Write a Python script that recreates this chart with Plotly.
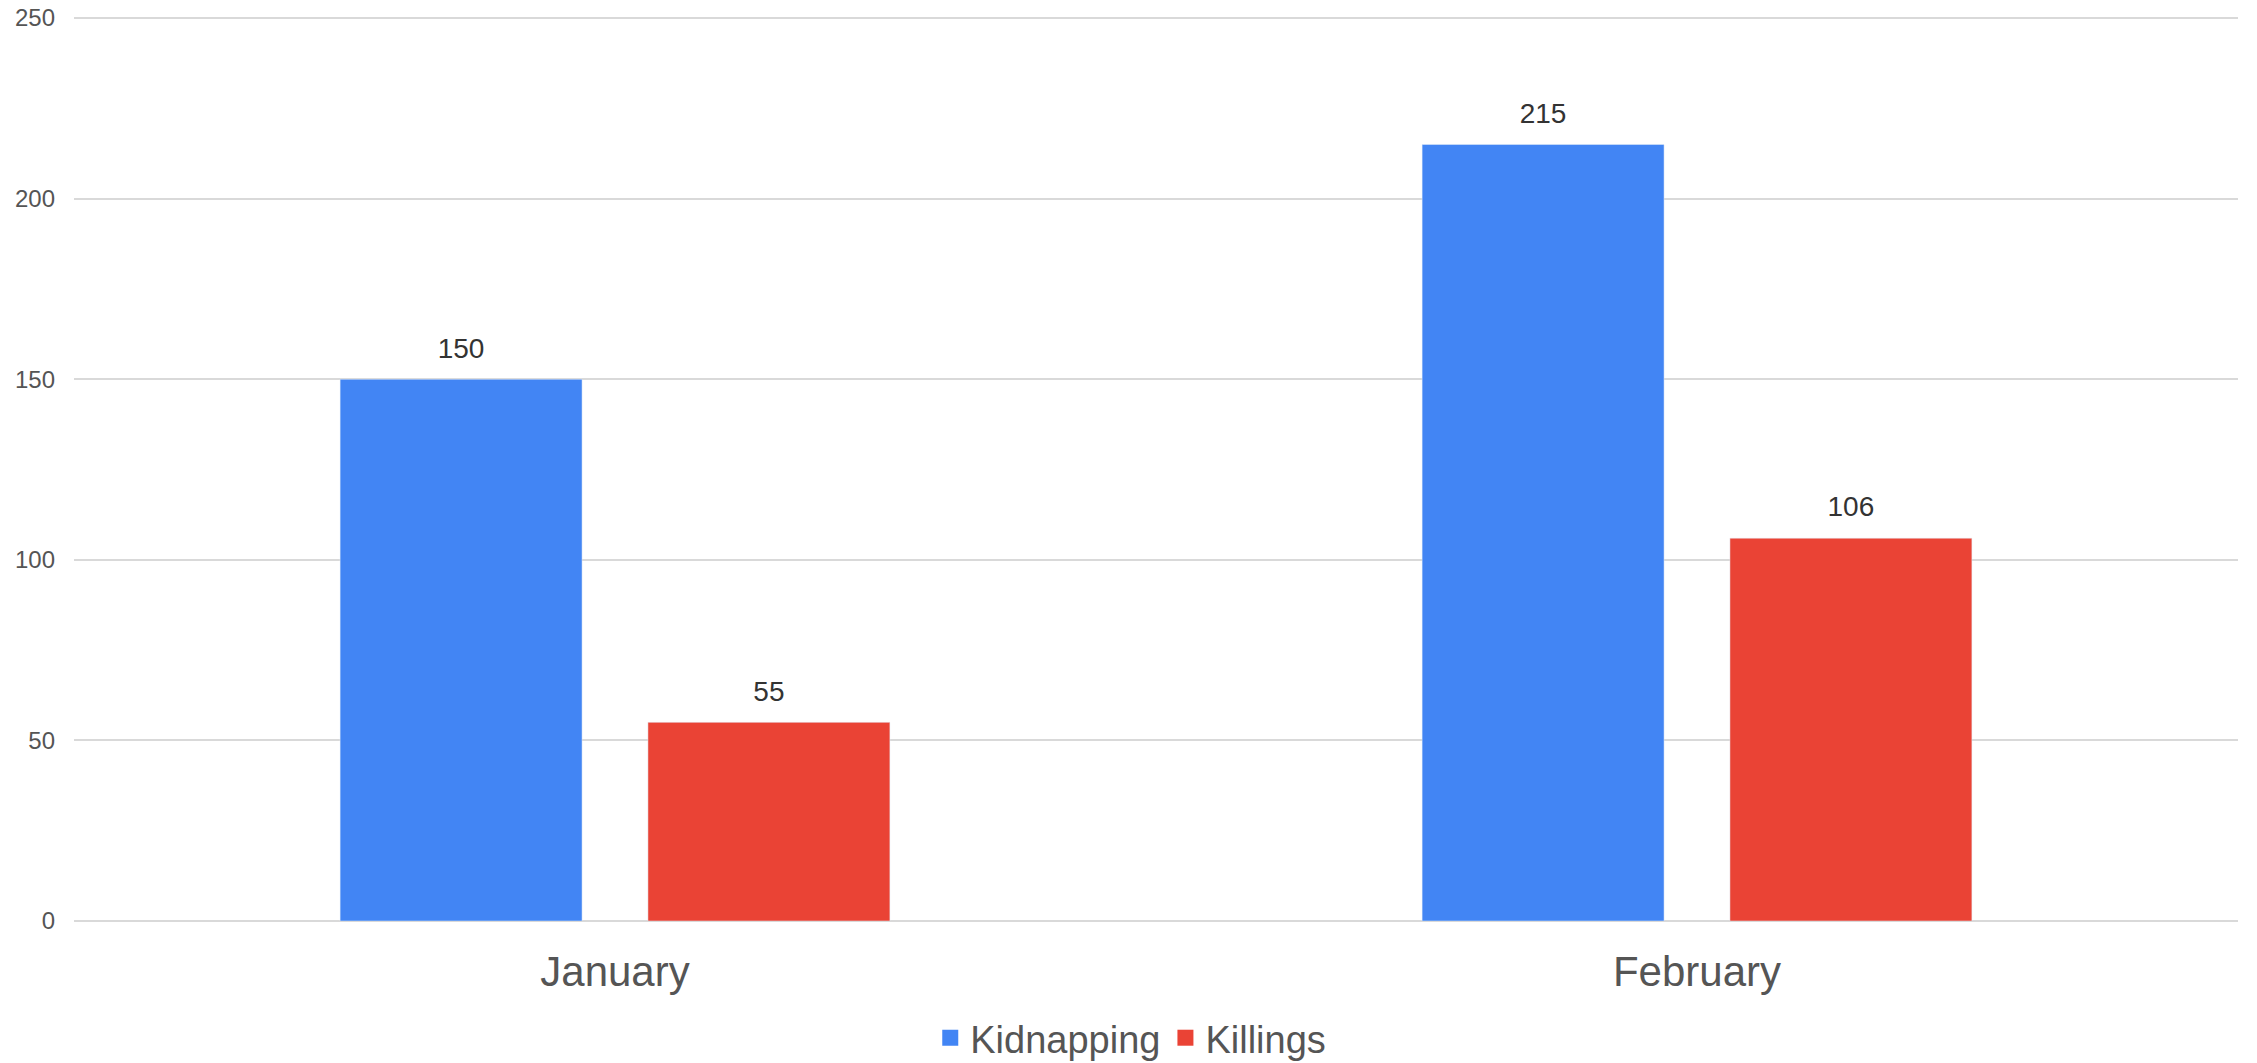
import plotly.graph_objects as go

months = ["January", "February"]
kidnapping = [150, 215]
killings = [55, 106]
y_ticks = [0, 50, 100, 150, 200, 250]

FONT = "Arial, 'Liberation Sans', sans-serif"
series = [("Kidnapping", kidnapping, "#4285F4", "k"), ("Killings", killings, "#EA4335", "l")]

fig = go.Figure()
for name, vals, color, grp in series:
    fig.add_trace(go.Bar(
        name=name, x=months, y=vals, marker_color=color, offsetgroup=grp,
        showlegend=False, hoverinfo="x+y",
    ))
for name, vals, color, grp in series:
    fig.add_trace(go.Scatter(
        x=months, y=vals, mode="markers+text", offsetgroup=grp,
        marker=dict(size=22, color="rgba(0,0,0,0)"),
        text=[str(v) for v in vals], textposition="top center",
        textfont=dict(size=28, color="#333333", family=FONT),
        showlegend=False, hoverinfo="skip", cliponaxis=False,
    ))
for name, vals, color, grp in series:
    fig.add_trace(go.Scatter(
        x=[None], y=[None], mode="markers", name=name, offsetgroup=grp,
        marker=dict(symbol="square", size=16, color=color), showlegend=True,
    ))

fig.update_layout(
    width=2257, height=1063,
    margin=dict(l=74, r=19, t=17, b=142, autoexpand=False),
    paper_bgcolor="white", plot_bgcolor="white",
    barmode="group", bargap=0.431, bargroupgap=0.214,
    scattermode="group", scattergap=0.431,
    font=dict(family=FONT, color="#555555"),
    showlegend=True,
    legend=dict(orientation="h", x=0.501, xanchor="center", xref="container",
                y=0.0235, yanchor="middle", yref="container",
                font=dict(size=38, color="#555555", family=FONT),
                itemsizing="trace", tracegroupgap=0),
)
fig.update_xaxes(
    showgrid=False, showline=False, zeroline=False, automargin=False,
    tickfont=dict(size=42, color="#555555", family=FONT),
    ticklabelstandoff=22,
)
fig.update_yaxes(
    range=[0, 250.3], tickvals=y_ticks, showgrid=True, gridcolor="#d9d9d9", gridwidth=2,
    zeroline=True, zerolinecolor="#d9d9d9", zerolinewidth=2, showline=False,
    automargin=False, ticklabeloverflow="allow",
    tickfont=dict(size=24, color="#555555", family=FONT),
    ticklabelstandoff=18,
)

fig.write_html(
    "out.html",
    config={"displayModeBar": False},
    post_script="document.body.style.margin='0';document.body.style.overflow='hidden';",
)
